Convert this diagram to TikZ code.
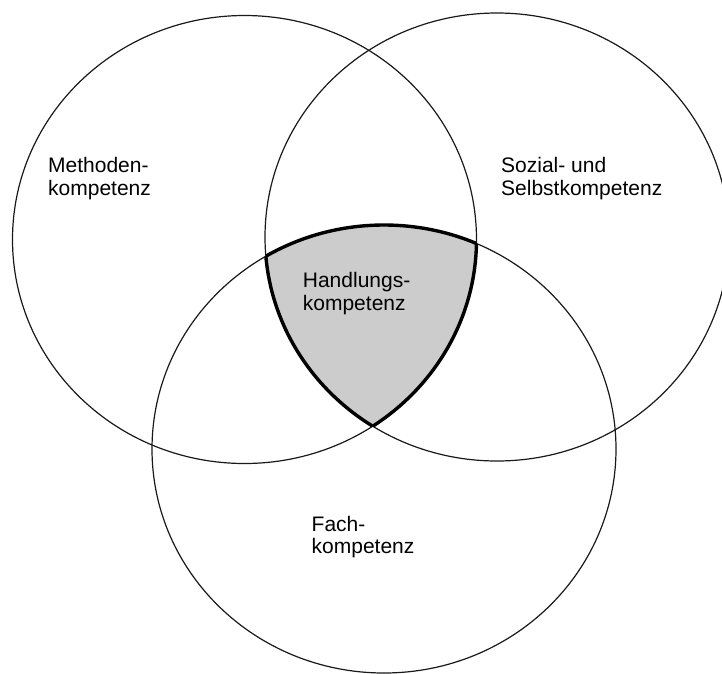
\documentclass[tikz,border=0pt]{standalone}
\usepackage{fontspec}
\setmainfont{Liberation Sans}
\definecolor{venngray}{RGB}{204,204,204}
\definecolor{ink}{RGB}{25,25,25}
\tikzset{
  ring/.style={draw=ink, line width=1.2pt},
  edge/.style={draw=black, line width=3.4pt},
  lbl/.style={anchor=base west, inner sep=0pt, text=black,
    font=\fontsize{21}{22.5}\selectfont}
}
\begin{document}
\begin{tikzpicture}[x=1pt,y=-1pt]
\useasboundingbox (0,0) rectangle (722,673);
\coordinate (c1) at (244.5,239.5);
\coordinate (c2) at (497,237);
\coordinate (c3) at (384,449);
\def\rx{232pt}
\def\ry{224pt}
% shaded intersection
\begin{scope}
  \clip (c1) ellipse [x radius=\rx, y radius=\ry];
  \clip (c2) ellipse [x radius=\rx, y radius=\ry];
  \fill[fill=venngray] (c3) ellipse [x radius=\rx, y radius=\ry];
\end{scope}
% circles
\draw[ring] (c1) ellipse [x radius=\rx, y radius=\ry];
\draw[ring] (c2) ellipse [x radius=\rx, y radius=\ry];
\draw[ring] (c3) ellipse [x radius=\rx, y radius=\ry];
% thick boundary of the shaded region
\begin{scope}
  \clip (c2) ellipse [x radius=\rx, y radius=\ry];
  \clip (c3) ellipse [x radius=\rx, y radius=\ry];
  \draw[edge] (c1) ellipse [x radius=\rx, y radius=\ry];
\end{scope}
\begin{scope}
  \clip (c1) ellipse [x radius=\rx, y radius=\ry];
  \clip (c3) ellipse [x radius=\rx, y radius=\ry];
  \draw[edge] (c2) ellipse [x radius=\rx, y radius=\ry];
\end{scope}
\begin{scope}
  \clip (c1) ellipse [x radius=\rx, y radius=\ry];
  \clip (c2) ellipse [x radius=\rx, y radius=\ry];
  \draw[edge] (c3) ellipse [x radius=\rx, y radius=\ry];
\end{scope}
% labels
\node[lbl] (m1) at (48,172.7) {Methoden-};
\node[lbl] (m2) at (48,195.2) {kompetenz};
\node[lbl] (s1) at (501,172.5) {Sozial- und};
\node[lbl] (s2) at (501,195) {Selbstkompetenz};
\node[lbl] (h1) at (302.7,287.5) {Handlungs-};
\node[lbl] (h2) at (302.7,310) {kompetenz};
\node[lbl] (f1) at (311.5,531) {Fach-};
\node[lbl] (f2) at (311.5,553.5) {kompetenz};
\end{tikzpicture}
\end{document}
